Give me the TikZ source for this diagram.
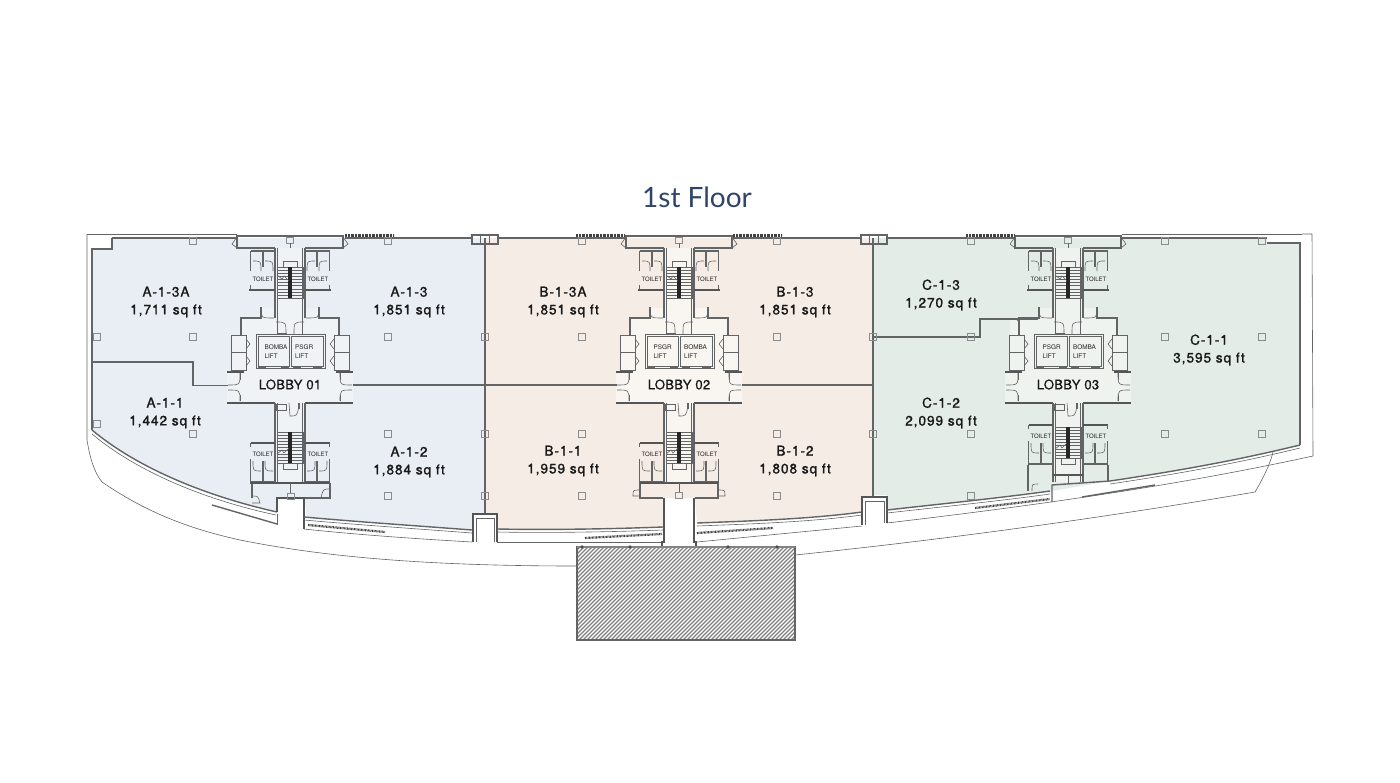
\documentclass[tikz,border=0pt]{standalone}
\usepackage{fontspec}
\setmainfont{Lato}
\newfontfamily\labelfont[FakeBold=1.4,LetterSpace=7]{TeX Gyre Heros}
\newfontfamily\plainfont[FakeBold=0.5,LetterSpace=1.5]{TeX Gyre Heros}
\newfontfamily\smallfont{TeX Gyre Heros}
\usepackage{xcolor}
\usetikzlibrary{calc}

\definecolor{roomA}{HTML}{E9EEF4}
\definecolor{roomB}{HTML}{F5ECE5}
\definecolor{roomC}{HTML}{E4ECE8}
\definecolor{lobbyA}{HTML}{F0F3F6}
\definecolor{lobbyB}{HTML}{F9F5F1}
\definecolor{lobbyC}{HTML}{EEF3F0}
\definecolor{wallgray}{HTML}{626466}
\definecolor{titleblue}{HTML}{2F4468}

\tikzset{
	wall/.style = {draw = wallgray, line width = 1.4pt},
	heavywall/.style = {draw = wallgray!85!black, line width = 2.2pt},
	liftwall/.style = {draw = wallgray, line width = 0.9pt},
	thinline/.style = {draw = wallgray, line width = 0.6pt},
	colbox/.style = {draw = wallgray!75, line width = 0.7pt},
	louvre/.style = {draw = black!75, line width = 2.2pt, dash pattern = on 0.8pt off 0.6pt},
	roomlabel/.style = {font = \labelfont\fontsize{13.6}{17.8}\selectfont, align = center, text = black!90, yshift = -1pt},
	lobbylabel/.style = {font = \plainfont\fontsize{13.2}{16}\selectfont, text = black!90},
	liftlabel/.style = {font = \smallfont\fontsize{6.4}{9}\selectfont, align = left, anchor = west, text = black!85},
	toiletlabel/.style = {font = \smallfont\fontsize{6}{7}\selectfont, text = black!85, inner sep = 0pt}
}

\begin{document}
\begin{tikzpicture}[x = 1pt, y = -1pt]
		\useasboundingbox (0,0) rectangle (1400,782);
		
		\def\stairs{
			\foreach \s in {0,3.1,...,31} {
				\draw[thinline, line width = 0.4pt] (-13,\s) -- (13,\s);
			}
			\draw[thinline] (-13,0) rectangle (13,31);
			\fill[black!85] (-1.6,0) rectangle (1.6,31);
		}
		
		\def\dooropen{
			\draw[thinline] (14,-63) .. controls (4,-63) .. (4,-51);
			\draw[thinline] (29,-77) .. controls (29,-67) .. (16,-67);
		}
		
		% one half of a core, drawn twice with xscale
		\def\corehalf{
			\draw[wall] (0,-149) -- (53,-149) -- (53,-137) -- (15,-137);
			\draw[thinline] (53,-148) -- (58,-141) -- (53,-137);
			\draw[wall] (15,-137) -- (15,-67);
			\draw[thinline] (12.5,-137) -- (12.5,-51);
			\draw[wall] (27,-134) -- (27,-118);
			\draw[wall] (39.5,-134) -- (39.5,-114);
			\draw[wall] (15,-134) -- (39.5,-134);
			\draw[wall] (39.5,-100) -- (39.5,-95);
			\draw[heavywall] (15,-95) -- (41,-95);
			\draw[thinline] (17,-114) .. controls (17,-124) .. (25,-124);
			\draw[thinline] (29,-114) .. controls (29,-124) .. (37,-124);
			\draw[wall] (29,-78) -- (29,-67) -- (49,-67) -- (49,-50);
			\dooropen
			\draw[liftwall] (44,-50) rectangle (59,-15);
			\draw[liftwall] (44,-32.5) -- (59,-32.5);
			\draw[thinline] (44,-46) -- (40,-41) -- (44,-36);
			\draw[thinline] (44,-29) -- (40,-24) -- (44,-19);
			\draw[heavywall] (46,-13) -- (63,-13);
			\draw[heavywall] (15,18) -- (63,18);
			\draw[thinline] (50,-12) .. controls (50,0) .. (62,0);
			\draw[thinline] (50,16) .. controls (50,5) .. (62,5);
			\draw[thinline] (50,-12) -- (50,-5);
			\draw[thinline] (50,16) -- (50,10);
			\draw[wall] (15,18) -- (15,97);
			\draw[thinline] (12.5,18) -- (12.5,97);
		}
		
		\def\toilethalf{
			\draw[heavywall] (15,58) -- (39.5,58);
			\draw[wall] (39.5,58) -- (39.5,62);
			\draw[wall] (39.5,74) -- (39.5,97) -- (15,97);
			\draw[wall] (27,76) -- (27,97);
			\draw[thinline] (17,86) .. controls (25,86) .. (25,76);
			\draw[thinline] (29,86) .. controls (37,86) .. (37,76);
		}
		
		% #1 centre x, #2 lobby fill, #3 #4 lift labels, #5 lobby name
		\def\core#1#2#3#4#5#6{
			\begin{scope}[shift = {(#1,385)}]
				\fill[#2] (-15,-137) -- (15,-137) -- (15,-77) -- (29,-77) -- (29,-67) -- (49,-67) -- (49,-50) -- (59,-50) -- (59,-13)
					-- (63,-13) -- (63,18) -- (15,18) -- (15,97) -- (-15,97) -- (-15,18) -- (-63,18)
					-- (-63,-13) -- (-59,-13) -- (-59,-50) -- (-49,-50) -- (-49,-67) -- (-29,-67) -- (-29,-77) -- (-15,-77) -- cycle;
				\corehalf
				\begin{scope}[xscale = -1]
					\corehalf
				\end{scope}
				\draw[colbox] (-3.5,-148) rectangle (3.5,-142);
				\draw[thinline, line width = 1pt] (0,-142) -- (0,-137);
				
				\begin{scope}[shift = {(0,-118)}]
					\stairs
				\end{scope}
				\draw[thinline] (-7,-118) -- (-7,-124) -- (7,-124) -- (7,-118);
				\draw[thinline] (-13,-110) -- (-8,-106) -- (-6,-109) -- (-1,-104);
				\node[toiletlabel] (#6 tl) at (-27,-106) {TOILET};
				\node[toiletlabel] (#6 tr) at (28,-106) {TOILET};
				
				\draw[thinline] (-34,-51) rectangle (35,-17);
				\draw[liftwall] (-32,-49) rectangle (-1,-19);
				\draw[liftwall] (1,-49) rectangle (33,-19);
				\draw[wall] (-13,-51) -- (-3,-51);
				\draw[wall] (-9,-17) -- (-1,-17);
				\draw[wall] (3,-17) -- (11,-17);
				\draw[wall] (23,-17) -- (32,-17);
				\draw[wall] (-32,-17) -- (-24,-17);
				\node[liftlabel] (#6 la) at (-29,-33.5) {#3\\LIFT};
				\node[liftlabel] (#6 lb) at (1.5,-33.5) {#4\\LIFT};
				\node[lobbylabel] (#6 name) at (0,-0.5) {#5};
				
				\draw[thinline] (-14,19) rectangle (-4,25);
				\draw[thinline] (-1,18) -- (0,31) .. controls (7,31) .. (9,21);
				\draw[wall] (9,18) -- (9,24);
			\end{scope}
		}
		
		% floor plates
		\fill[roomA] (92,249) -- (112,249) -- (112,238) -- (485,238) -- (485,513) -- (472,513) -- (472,530)
			.. controls (420,526) and (360,522) .. (307,517) -- (304,498) -- (277,498) -- (277,512)
			.. controls (210,497) and (140,470) .. (92,430) -- cycle;
		\fill[roomB] (485,238) -- (873,238) -- (873,497) -- (862,497) -- (862,512)
			.. controls (810,519) and (750,521) .. (697,523) -- (695,498) -- (663,498) -- (663,527)
			.. controls (610,529) and (550,530) .. (497,529) -- (497,513) -- (485,513) -- cycle;
		\fill[roomC] (873,238) -- (1267,238) -- (1267,243) -- (1300,243) -- (1300,445)
			.. controls (1230,462) and (1170,472) .. (1110,481) -- (1052,491)
			.. controls (1000,498) and (940,504) .. (887,510) -- (887,495) -- (873,495) -- cycle;
		
		\core{290}{lobbyA}{BOMBA}{PSGR}{LOBBY 01}{lobbyone}
		\core{679}{lobbyB}{PSGR}{BOMBA}{LOBBY 02}{lobbytwo}
		
		% the third core has its lower stair higher up
		\fill[lobbyC] (1010,319) rectangle (1040,340);
		\core{1068}{lobbyC}{PSGR}{BOMBA}{LOBBY 03}{lobbythree}
		
		% lower stairs and toilets
		\foreach \cx/\sy/\ty/\lbl in {290/47/0/a, 679/47/0/b, 1068/42/-18/c} {
			\begin{scope}[shift = {(\cx,385)}]
				\begin{scope}[shift = {(0,\sy)}]
					\stairs
					\draw[thinline] (-7,31) -- (-7,37) -- (7,37) -- (7,31);
					\draw[thinline] (-13,22) -- (-8,18) -- (-6,21) -- (-1,16);
				\end{scope}
				\begin{scope}[shift = {(0,\ty)}]
					\toilethalf
					\begin{scope}[xscale = -1]
						\toilethalf
					\end{scope}
					\node[toiletlabel] (toilet \lbl l) at (-27,69) {TOILET};
					\node[toiletlabel] (toilet \lbl r) at (28,69) {TOILET};
				\end{scope}
			\end{scope}
		}
		
		% unit partitions
		\draw[wall] (92,362) -- (193,362) -- (193,385.5) -- (228,385.5);
		\draw[wall] (353,385) -- (617,385);
		\draw[wall] (742,385) -- (873,385);
		\draw[wall] (874,337) -- (980,337) -- (980,319) -- (1038,319);
		\draw[wall] (485,238) -- (485,513);
		\draw[wall] (873,238) -- (873,497);
		\draw[thinline] (1010,319) .. controls (1019,319) .. (1019,330);
		
		% outer walls and glazing
		\draw[wall] (112,238) -- (237,238);
		\draw[thinline] (87,234) -- (237,234);
		\draw[wall] (92,430) -- (92,249) -- (112,249) -- (112,238);
		\draw[wall] (92,430) .. controls (140,470) and (210,497) .. (277,512);
		\draw[thinline] (92,434) .. controls (140,474) and (210,501) .. (276,515);
		\draw[wall] (345,238) -- (472,238);
		\draw[wall] (498,238) -- (627,238);
		\draw[wall] (732,238) -- (861,238);
		\draw[wall] (888,238) -- (1016,238);
		\draw[wall] (1122,238) -- (1267,238);
		\draw[thinline] (1122,234) -- (1302,234);
		\draw[wall] (1267,243) -- (1300,243) -- (1300,445);
		\draw[wall] (1300,445) .. controls (1230,462) and (1170,472) .. (1110,481);
		\draw[thinline] (1300,448) .. controls (1230,465) and (1170,475) .. (1110,484);
		
		\draw[louvre] (345,235.5) -- (394,235.5);
		\draw[louvre] (576,235.5) -- (624,235.5);
		\draw[louvre] (733,235.5) -- (782,235.5);
		\draw[louvre] (966,235.5) -- (1014,235.5);
		\draw[louvre] (308,525) -- (385,532);
		\draw[louvre] (585,538) -- (662,534);
		\draw[louvre] (697,533) -- (773,528);
		\draw[louvre] (975,508) -- (1050,499);
		\draw[wall] (212,505) -- (277,524);
		\draw[wall] (1082,497) -- (1155,485);
		
		\foreach \bx in {472,861} {
			\draw[wall] (\bx,235) rectangle (\bx+26,244);
			\draw[thinline] (\bx+8,235) -- (\bx+8,244);
			\draw[thinline] (\bx+17,235) -- (\bx+17,244);
		}
		
		% balcony edge
		\draw[thinline] (87,234) -- (87,440) .. controls (90,458) and (94,472) .. (102,482)
			.. controls (150,515) and (195,530) .. (240,540) .. controls (320,556) and (420,566) .. (577,566);
		\draw[thinline] (795,555) .. controls (960,538) and (1120,515) .. (1255,492) .. controls (1262,480) and (1270,465) .. (1273,452);
		\draw[thinline] (887,523) .. controls (1040,505) and (1180,485) .. (1313,456) -- (1312,234) -- (1302,234);
		
		% bottom ends of the shafts
		\draw[wall] (252,482) -- (252,498);
		\draw[heavywall] (250,483) -- (330,483);
		\draw[wall] (330,483) -- (330,498) -- (304,498);
		\draw[heavywall] (277,512) -- (277,498) -- (304,498) -- (304,529);
		\draw[thinline] (277,514) -- (277,525);
		\draw[thinline] (290,483) -- (290,493);
		\draw[colbox] (287,493) rectangle (294,499);
		\draw[thinline] (252,496) .. controls (258,496) .. (260,503) -- (252,503);
		\draw[thinline] (330,489) .. controls (323,489) .. (321,498);
		\draw[wall] (304,517) .. controls (360,522) and (420,526) .. (472,530);
		\draw[thinline] (304,520) .. controls (360,525) and (420,529) .. (472,533);
		\draw[thinline] (304,529) .. controls (360,535) and (420,539) .. (472,542);
		
		\fill[white] (473,514) rectangle (497,542);
		\draw[heavywall] (473,542) -- (473,514) -- (497,514) -- (497,542);
		\draw[thinline] (476,542) -- (476,518) -- (494,518) -- (494,542);
		\draw[wall] (497,529) .. controls (550,530) and (610,529) .. (663,527);
		\draw[thinline] (497,542) -- (663,542);
		\draw[thinline] (497,532) .. controls (550,533) and (610,532) .. (663,530);
		
		\draw[wall] (640,482) -- (640,498) -- (663,498);
		\draw[wall] (718,482) -- (718,498) -- (695,498);
		\draw[heavywall] (664,498) -- (664,542) -- (662,542) -- (662,547);
		\draw[heavywall] (694,498) -- (694,542) -- (696,542) -- (696,547);
		\draw[heavywall] (640,483) -- (718,483);
		\draw[thinline] (679,483) -- (679,492);
		\draw[colbox] (675,492) rectangle (682,498);
		\draw[thinline] (640,490) .. controls (633,490) .. (633,496) -- (640,496);
		\draw[thinline] (718,490) .. controls (725,490) .. (725,496) -- (718,496);
		
		\draw[wall] (697,523) .. controls (750,521) and (810,519) .. (862,512);
		\draw[thinline] (697,526) .. controls (750,524) and (810,522) .. (862,515);
		\draw[thinline] (697,542) -- (862,526);
		\fill[white] (863,498) rectangle (886,525);
		\draw[heavywall] (862,525) -- (862,497) -- (887,497) -- (887,523);
		\draw[thinline] (865,525) -- (865,501) -- (884,501) -- (884,523);
		
		\draw[wall] (887,510) .. controls (940,504) and (1000,498) .. (1050,491);
		\draw[thinline] (887,513) .. controls (940,507) and (1000,501) .. (1050,494);
		\draw[wall] (1052,502) -- (1052,485) -- (1110,481);
		\draw[wall] (1028,465) -- (1028,491);
		\draw[wall] (1108,465) -- (1108,481);
		\draw[heavywall] (1053,475) -- (1083,475);
		\draw[thinline] (1068,475) -- (1068,484);
		\draw[thinline] (1032,491) .. controls (1032,484) .. (1038,484);
		
		% columns
		\foreach \cx/\cy in {193/241, 388/241, 97/337, 193/337, 388/337, 485/337, 97/424, 193/434, 388/434, 485/434, 388/496, 485/496,
			582/241, 777/241, 582/337, 777/337, 873/337, 582/434, 777/434, 873/434, 582/496, 777/496,
			971/241, 1165/241, 1262/241, 971/337, 1165/337, 1262/337, 971/434, 1165/434, 1262/434, 971/496} {
			\draw[colbox] (\cx-3.5,\cy-3.5) rectangle (\cx+3.5,\cy+3.5);
		}
		
		% terrace block
		\begin{scope}
			\clip (578,548) rectangle (794,640);
			\foreach \hx in {470,474,...,800} {
				\draw[black!50, line width = 1.1pt] (\hx,645) -- (\hx+105,540);
			}
		\end{scope}
		\draw[wall] (577,547) rectangle (795,640);
		\draw[heavywall, draw = wallgray!80] (577,547) -- (795,547);
		\foreach \hx in {582,630,728,777} {
			\fill[black!70] (\hx,547) circle [radius = 1.8pt];
		}
		
		% labels
		\node[font = \fontsize{28}{32}\selectfont, text = titleblue] (title) at (697,197) {1st Floor};
		\node[roomlabel] (a13a) at (166,301) {A-1-3A\\1,711 sq ft};
		\node[roomlabel] (a13) at (409,301) {A-1-3\\1,851 sq ft};
		\node[roomlabel] (a11) at (165,412) {A-1-1\\1,442 sq ft};
		\node[roomlabel] (a12) at (409,461) {A-1-2\\1,884 sq ft};
		\node[roomlabel] (b13a) at (563,301) {B-1-3A\\1,851 sq ft};
		\node[roomlabel] (b13) at (795,301) {B-1-3\\1,851 sq ft};
		\node[roomlabel] (b11) at (563,460) {B-1-1\\1,959 sq ft};
		\node[roomlabel] (b12) at (795,460) {B-1-2\\1,808 sq ft};
		\node[roomlabel] (c13) at (941,294) {C-1-3\\1,270 sq ft};
		\node[roomlabel] (c11) at (1209,349) {C-1-1\\3,595 sq ft};
		\node[roomlabel] (c12) at (941,412) {C-1-2\\2,099 sq ft};
	\end{tikzpicture}
\end{document}
